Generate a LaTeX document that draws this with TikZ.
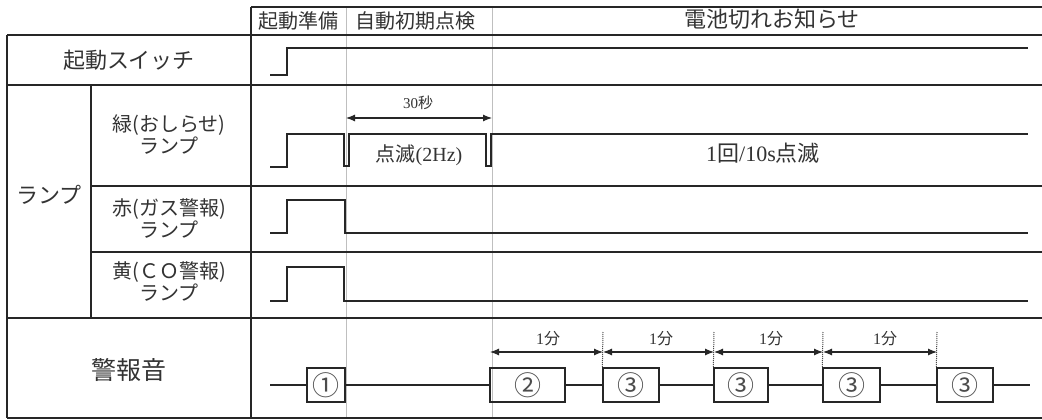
\documentclass[tikz,border=0pt]{standalone}
\usepackage{fontspec}
\setmainfont{Liberation Serif}
\newfontfamily\jp{Noto Sans CJK JP}
\usetikzlibrary{arrows.meta}
\begin{document}
\begin{tikzpicture}[x=1pt,y=-1pt,
  frame/.style={line width=1.6pt, black!85},
  guide/.style={line width=0.7pt, black!25},
  sig/.style={line width=1.5pt, black!85, line join=miter},
  base/.style={line width=1.3pt, black!85},
  hdr/.style={text=black!80, inner sep=0pt, font=\jp\fontsize{20}{24}\selectfont},
  lbl/.style={text=black!80, inner sep=0pt, align=center, font=\jp\fontsize{20}{22}\selectfont},
  biglbl/.style={text=black!80, inner sep=0pt, font=\jp\fontsize{22}{24}\selectfont},
  note/.style={text=black!80, inner sep=0pt, font=\fontsize{20}{22}\selectfont},
  dimtxt/.style={text=black!80, inner sep=0pt, font=\fontsize{16}{18}\selectfont},
  pulse/.style={draw=black!85, line width=1.3pt, minimum height=34pt, inner sep=0pt,
                text=black!70, font=\jp\fontsize{27}{28}\selectfont},
  dimline/.style={line width=1.1pt, black!85, {Latex[length=9pt,width=7pt]}-{Latex[length=9pt,width=7pt]}},
  tickline/.style={line width=1pt, black!70, densely dotted}
]
\useasboundingbox (0,0) rectangle (1042,420);
\fill[white] (0,0) rectangle (1042,420);

% guide lines
\draw[guide] (346,7) -- (346,418);
\draw[guide] (492,7) -- (492,418);

% table frame
\draw[frame] (251,7) -- (1042,7);
\draw[frame] (7,35) -- (1042,35);
\draw[frame] (7,85) -- (1042,85);
\draw[frame] (91,186) -- (1042,186);
\draw[frame] (91,252) -- (1042,252);
\draw[frame] (7,318) -- (1042,318);
\draw[frame] (7,418) -- (1042,418);
\draw[frame] (7,35) -- (7,418);
\draw[frame] (251,7) -- (251,418);
\draw[frame] (91,85) -- (91,318);

% header
\node[hdr] (h1) at (298,21) {起動準備};
\node[hdr] (h2) at (415,21) {自動初期点検};
\node[hdr, font=\jp\fontsize{22}{24}\selectfont] (h3) at (772,19) {電池切れお知らせ};

% row labels
\node[biglbl] (sw) at (129,60) {起動スイッチ};
\node[biglbl] (lamp) at (49,195) {ランプ};
\node[lbl] (green) at (169,135) {緑(おしらせ)\\ランプ};
\node[lbl] (red) at (169,218) {赤(ガス警報)\\ランプ};
\node[lbl] (yellow) at (169,281) {黄(ＣＯ警報)\\ランプ};
\node[biglbl, font=\jp\fontsize{25}{26}\selectfont] (alarm) at (129,370) {警報音};

% signals
\draw[sig] (270,75) -- (287,75) -- (287,48) -- (1028,48);
\draw[sig] (270,167) -- (287,167) -- (287,134) -- (344,134) -- (344,166) -- (349,166)
  -- (349,134) -- (486,134) -- (486,166) -- (491,166) -- (491,134) -- (1028,134);
\draw[sig] (270,233) -- (287,233) -- (287,200) -- (345,200) -- (345,233) -- (1028,233);
\draw[sig] (270,301) -- (287,301) -- (287,267) -- (344,267) -- (344,301) -- (1028,301);

\node[note] (blink) at (419,155) {{\jp 点滅}(2Hz)};
\node[note, font=\fontsize{22}{24}\selectfont] (once) at (763,153) {1{\jp 回}/10s{\jp 点滅}};

% 30 s dimension
\coordinate (a30) at (346,118);
\coordinate (b30) at (492,118);
\draw[dimline] (a30) -- (b30);
\node[dimtxt, font=\fontsize{15}{16}\selectfont] (t30) at (418,103) {30{\jp 秒}};

% alarm sound
\coordinate (s0) at (270,385);
\coordinate (s1) at (1030,385);
\node[pulse, minimum width=38pt] (p1) at (326,385) {①};
\node[pulse, minimum width=75pt] (p2) at (527.5,385) {②};
\node[pulse, minimum width=56pt] (p3) at (631,385) {③};
\node[pulse, minimum width=54pt] (p4) at (741,385) {③};
\node[pulse, minimum width=57pt] (p5) at (851.5,385) {③};
\node[pulse, minimum width=56pt] (p6) at (965,385) {③};
\draw[base] (s0) -- (p1) -- (p2) -- (p3) -- (p4) -- (p5) -- (p6) -- (s1);

\coordinate (m0) at (490,352);
\coordinate (m1) at (603,352);
\coordinate (m2) at (714,352);
\coordinate (m3) at (823,352);
\coordinate (m4) at (937,352);
\coordinate (d1) at (603,332);
\coordinate (d2) at (714,332);
\coordinate (d3) at (823,332);
\coordinate (d4) at (937,332);
\draw[tickline] (d1) -- (p3.north west);
\draw[tickline] (d2) -- (p4.north west);
\draw[tickline] (d3) -- (p5.north west);
\draw[tickline] (d4) -- (p6.north west);
\draw[dimline] (m0) -- (m1);
\draw[dimline] (m1) -- (m2);
\draw[dimline] (m2) -- (m3);
\draw[dimline] (m3) -- (m4);
\node[dimtxt] (u1) at (548,339) {1{\jp 分}};
\node[dimtxt] (u2) at (661,339) {1{\jp 分}};
\node[dimtxt] (u3) at (771,339) {1{\jp 分}};
\node[dimtxt] (u4) at (885,339) {1{\jp 分}};
\end{tikzpicture}
\end{document}
